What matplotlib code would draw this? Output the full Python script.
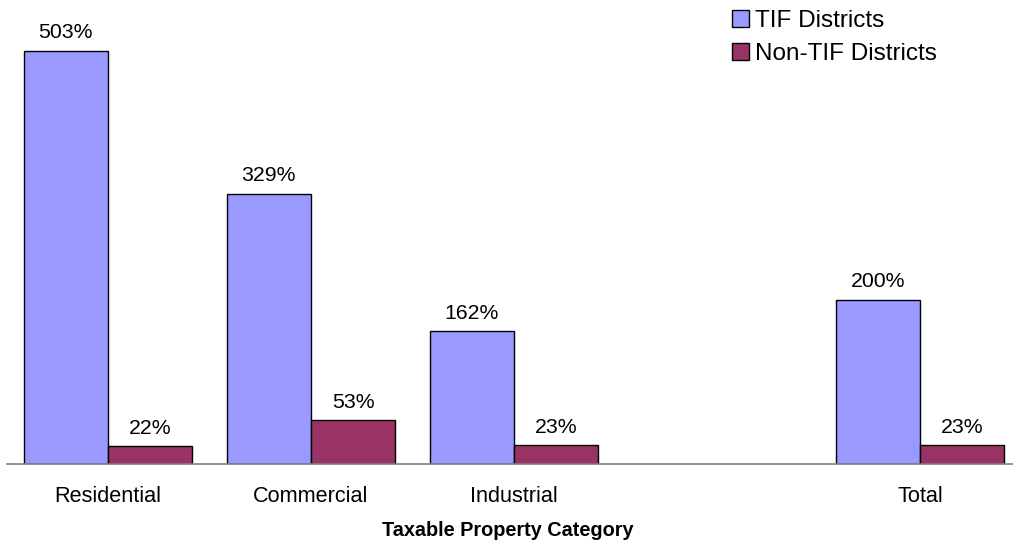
import matplotlib.pyplot as plt
from matplotlib.patches import Patch

plt.rcParams['font.family'] = ['Liberation Sans', 'DejaVu Sans']

#categories and values (empty slot before Total)
categories = ['Residential', 'Commercial', 'Industrial', 'Total']
positions = [0, 1, 2, 4]
tif = [503, 329, 162, 200]
non_tif = [22, 53, 23, 23]

tif_color = '#9999FF'
non_tif_color = '#993366'

fig = plt.figure(figsize=(10.13, 5.43), dpi=100)
ax = fig.add_axes([6.5 / 1013, 79 / 543, 1006.5 / 1013, 460 / 543])

w = 0.416
tif_x = [p - w / 2 for p in positions]
non_x = [p + w / 2 for p in positions]
b1 = ax.bar(tif_x, tif, width=w, color=tif_color, edgecolor='black', linewidth=1)
b2 = ax.bar(non_x, non_tif, width=w, color=non_tif_color, edgecolor='black', linewidth=1)

ax.bar_label(b1, labels=[str(v) + '%' for v in tif], padding=6, fontsize=15.3)
ax.bar_label(b2, labels=[str(v) + '%' for v in non_tif], padding=6, fontsize=15.3)

ax.set_xlim(-0.5, -0.5 + 1006.5 / 203)
ax.set_ylim(0, 560)
ax.set_xticks(positions)
ax.set_xticklabels(categories, fontsize=15.6)
ax.set_yticks([])
ax.tick_params(axis='x', length=0, pad=16)
for s in ['top', 'left', 'right']:
    ax.spines[s].set_visible(False)
ax.spines['bottom'].set_color('#808080')
ax.spines['bottom'].set_linewidth(1.2)

fig.text(508 / 1013, 1 - 531 / 543, 'Taxable Property Category',
         fontsize=14.3, fontweight='bold', ha='center', va='center')

handles = [Patch(facecolor=tif_color, edgecolor='black'),
           Patch(facecolor=non_tif_color, edgecolor='black')]
fig.legend(handles, ['TIF Districts', 'Non-TIF Districts'],
           loc='upper left', bbox_to_anchor=(732 / 1013, 1 - 10 / 543),
           frameon=False, fontsize=17.5, borderpad=0, borderaxespad=0,
           handlelength=0.7, handleheight=0.67, handletextpad=0.25,
           labelspacing=0.45)

fig.savefig('out.png', dpi=100)
